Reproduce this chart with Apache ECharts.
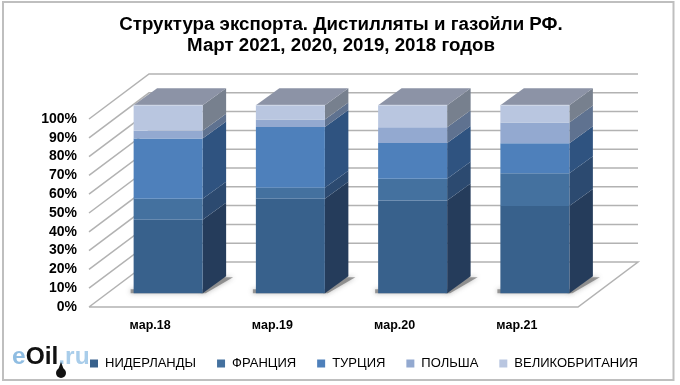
<!DOCTYPE html>
<html><head><meta charset="utf-8">
<style>html,body{margin:0;padding:0;background:#fff}#c{width:680px;height:385px}</style>
<script src="https://cdn.jsdelivr.net/npm/echarts@6/dist/echarts.min.js"></script>
</head><body><div id="c"></div>
<script>
const categories = ['мар.18','мар.19','мар.20','мар.21'];
const niderlandy = [39.1,50.3,49.4,46.5];
const franciya = [11.2,5.8,11.5,17.3];
const turciya = [32.1,32.4,19.0,16.0];
const polsha = [4.1,3.9,8.4,11.1];
const velikobritaniya = [13.5,7.6,11.7,9.1];
const yTicks = [0,10,20,30,40,50,60,70,80,90,100];
const seriesNames = ['НИДЕРЛАНДЫ','ФРАНЦИЯ','ТУРЦИЯ','ПОЛЬША','ВЕЛИКОБРИТАНИЯ'];
const seriesValues = [niderlandy,franciya,turciya,polsha,velikobritaniya];
const fronts = ['#38618c','#44719f','#4e80bb','#93a9d0','#b9c6e0'];
const sides = ['#253c5b','#2c4a70','#2f5380','#5f7290','#77808e'];
const topFace = '#8c93a6';

const chart = echarts.init(document.getElementById('c'), null, {renderer:'canvas'});
const wallDx=60, wallDy=45, wallRight=638;
const barOffX=18, barOffY=13.7, barHalf=34.5, depthX=23.5, depthY=17;
const gridColor='#b2b2b2';

function wallItem(params, api){
  const p = api.coord([0, api.value(0)]);
  const x0 = params.coordSys.x, y = p[1];
  const isFloor = api.value(0)===0;
  const pts = isFloor
    ? [[x0,y],[params.coordSys.x+params.coordSys.width,y],[wallRight,y-wallDy],[x0+wallDx,y-wallDy],[x0,y]]
    : [[x0,y],[x0+wallDx,y-wallDy],[wallRight,y-wallDy]];
  return {type:'polyline',shape:{points:pts},style:{stroke:gridColor,lineWidth:1.5,fill:null}};
}
function shadowItem(params, api){
  const p = api.coord([api.value(0),0]);
  const cx=p[0]+barOffX, y=p[1]-barOffY, L=cx-barHalf, R=cx+barHalf;
  const st={fill:'rgba(95,95,95,0.6)',shadowBlur:5,shadowColor:'rgba(80,80,80,0.7)'};
  return {type:'group',children:[
    {type:'polygon',shape:{points:[[R-2,y],[R+depthX-2,y-depthY+1],[R+depthX+7,y-depthY+1],[R+3,y]]},style:st},
    {type:'rect',shape:{x:L-3,y:y-4,width:R-L+4,height:4},style:st}
  ]};
}
function barItem(idx){
  return function(params, api){
    const c = api.value(0), lo=api.coord([c,api.value(1)]), hi=api.coord([c,api.value(2)]);
    const cx=lo[0]+barOffX, y0=lo[1]-barOffY, y1=hi[1]-barOffY;
    const L=cx-barHalf,R=cx+barHalf;
    const kids=[
      {type:'polygon',shape:{points:[[R,y0],[R+depthX,y0-depthY],[R+depthX,y1-depthY],[R,y1]]},style:{fill:sides[idx]}},
      {type:'rect',shape:{x:L,y:y1,width:R-L,height:y0-y1},style:{fill:fronts[idx]}}
    ];
    if(idx===seriesNames.length-1){
      kids.push({type:'polygon',shape:{points:[[L,y1],[R,y1],[R+depthX,y1-depthY],[L+depthX,y1-depthY]]},style:{fill:topFace}});
      kids.push({type:'polyline',shape:{points:[[L,y1],[R,y1]]},style:{stroke:'#d3dbeb',lineWidth:1,fill:null}});
    }
    return {type:'group',children:kids};
  };
}
const barSeries = seriesNames.map((n,i)=>({
  name:n,type:'custom',silent:true,clip:false,z:5,
  itemStyle:{color:fronts[i]},
  renderItem:barItem(i),
  data:categories.map((_,k)=>{
    let lo=0; for(let j=0;j<i;j++) lo+=seriesValues[j][k];
    return [k,lo,lo+seriesValues[i][k]];
  })
}));

chart.setOption({
  animation:false,
  backgroundColor:'#fff',
  title:{text:'Структура экспорта. Дистилляты и газойли РФ.\nМарт 2021, 2020, 2019, 2018 годов',left:336,top:10,textAlign:'center',
    textStyle:{fontFamily:'Liberation Sans',fontSize:18.7,fontWeight:'bold',color:'#000',lineHeight:20.5}},
  grid:{left:89,right:102,top:119,bottom:78},
  legend:{data:seriesNames,left:90,top:357,padding:0,itemWidth:8,itemHeight:8,itemGap:21,icon:'rect',
    textStyle:{fontFamily:'Liberation Sans',fontSize:13,color:'#000',padding:[0,0,0,2]}},
  xAxis:{type:'category',data:categories,axisLine:{show:false},axisTick:{show:false},
    axisLabel:{margin:12,fontFamily:'Liberation Sans',fontSize:12.5,fontWeight:'bold',color:'#000'}},
  yAxis:{type:'value',min:0,max:100,interval:10,axisLine:{show:false},axisTick:{show:false},splitLine:{show:false},
    axisLabel:{formatter:'{value}%',margin:12,fontFamily:'Liberation Sans',fontSize:14,fontWeight:'bold',color:'#000'}},
  graphic:[
    {type:'rect',shape:{x:3,y:2,width:670.5,height:378},style:{fill:null,stroke:'#bfbfbf',lineWidth:2},silent:true,z:0},
    {type:'text',x:12,y:345,silent:true,z:6,style:{text:'{a|e}{b|Oil}{c|.ru}',rich:{
      a:{fontFamily:'Liberation Sans',fontSize:24.5,fontWeight:'bold',fill:'#8fbde2',textFill:'#8fbde2'},
      b:{fontFamily:'Liberation Sans',fontSize:24.5,fontWeight:'bold',fill:'#111',textFill:'#111'},
      c:{fontFamily:'Liberation Sans',fontSize:24.5,fontWeight:'bold',fill:'#a9cdea',textFill:'#a9cdea'}}}},
    {type:'circle',shape:{cx:61,cy:373,r:5},style:{fill:'#111'},silent:true,z:6},
    {type:'polygon',shape:{points:[[58,370],[64,370],[61,362]]},style:{fill:'#111'},silent:true,z:6}
  ],
  series:[
    {type:'custom',silent:true,clip:false,z:1,renderItem:wallItem,data:yTicks.map(v=>[v])},
    {type:'custom',silent:true,clip:false,z:2,renderItem:shadowItem,data:categories.map((_,k)=>[k])}
  ].concat(barSeries)
});
</script></body></html>
